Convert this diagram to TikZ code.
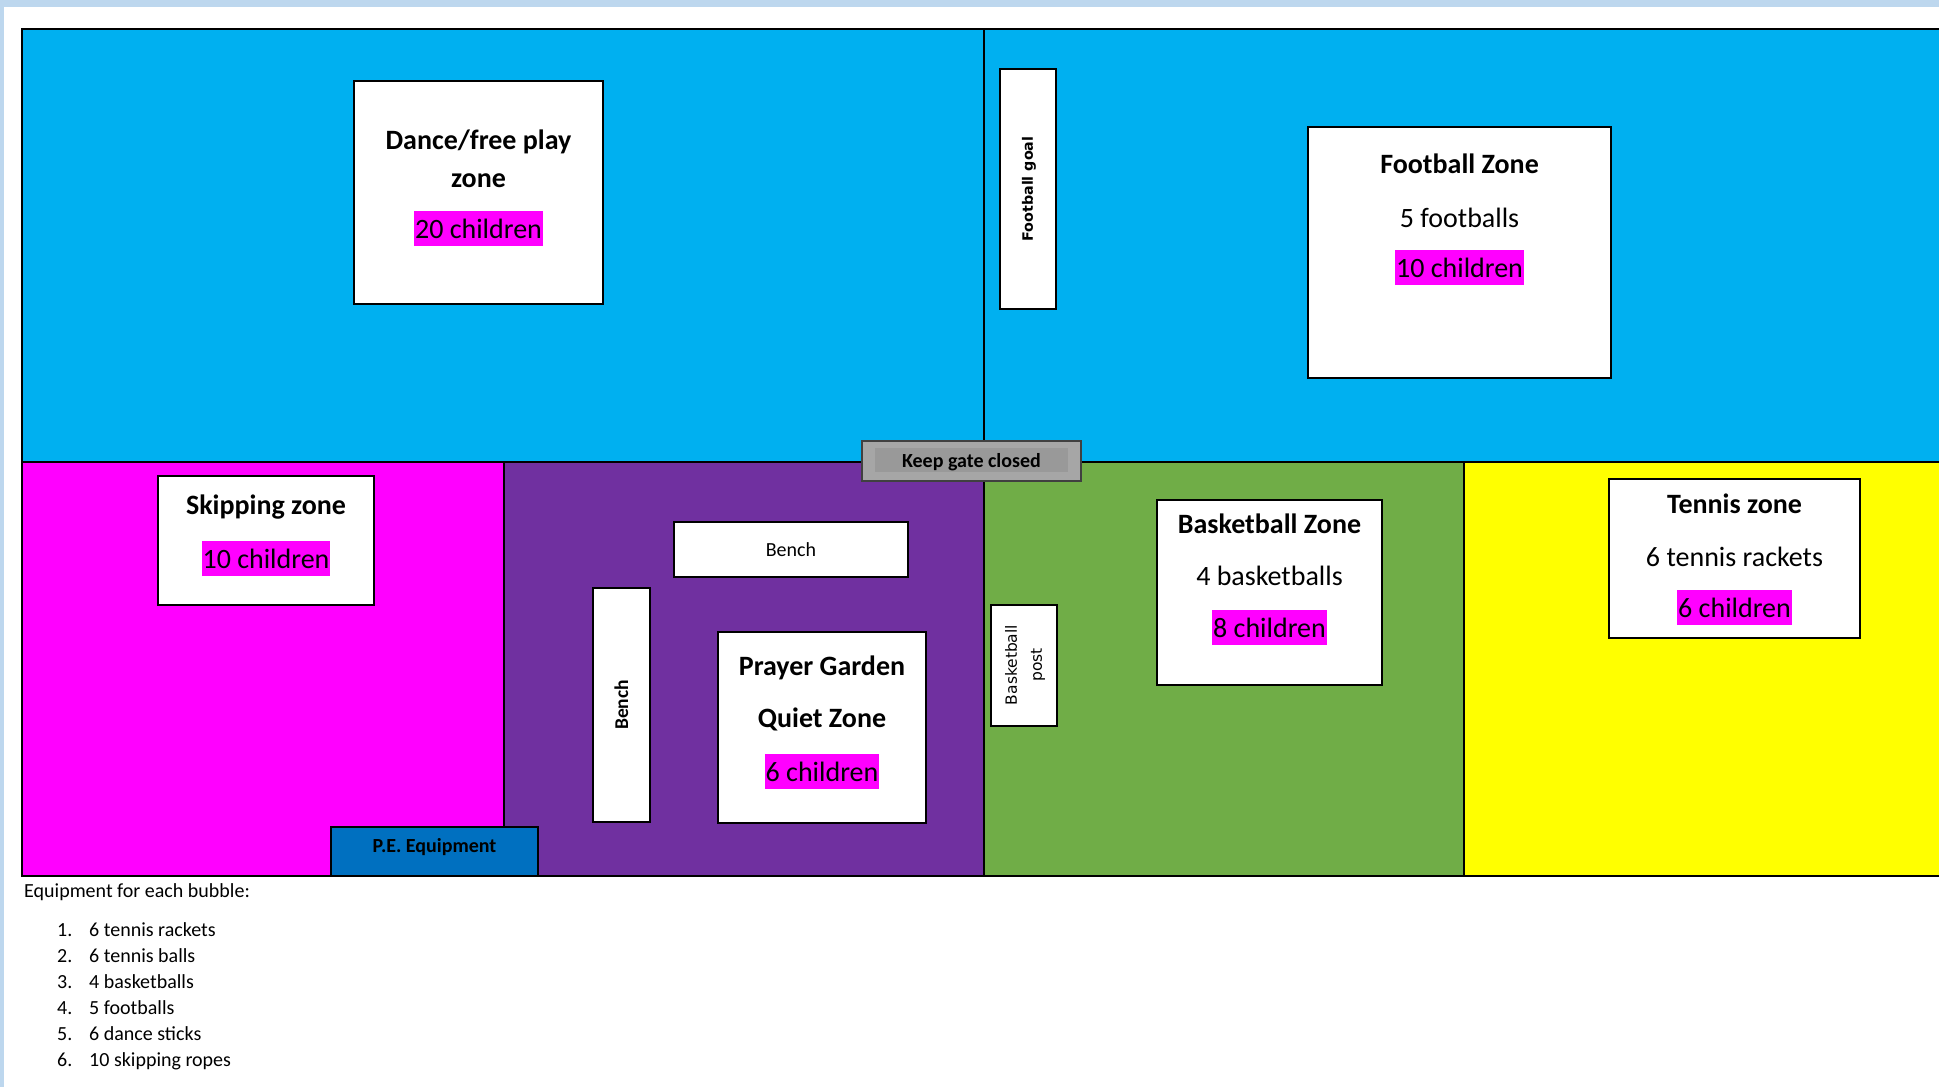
\documentclass[tikz,border=0pt]{standalone}
\usepackage{fontspec}
\setmainfont{Carlito}
\newfontfamily\signfont{DejaVu Sans}
\usetikzlibrary{positioning}
\definecolor{sky}{HTML}{00B0F0}
\definecolor{pink}{HTML}{FF00FF}
\definecolor{grape}{HTML}{7030A0}
\definecolor{grass}{HTML}{70AD47}
\definecolor{lemon}{HTML}{FFFF00}
\definecolor{pebox}{HTML}{0070C0}
\definecolor{edge}{HTML}{BDD7EE}
\definecolor{gate}{HTML}{A6A6A6}
\definecolor{gatein}{HTML}{999999}
\tikzset{
  zone/.style={draw=black, line width=1.3pt},
  whitebox/.style={draw=black, fill=white, line width=1.6pt},
  title/.style={anchor=base, inner sep=0pt, font=\fontsize{28}{34}\selectfont\bfseries},
  plain/.style={anchor=base, inner sep=0pt, font=\fontsize{28}{34}\selectfont},
  kids/.style={anchor=base, fill=pink, inner xsep=1pt, inner ysep=0pt, text height=27pt, text depth=8pt, font=\fontsize{28}{34}\selectfont},
  small/.style={anchor=base, inner sep=0pt, font=\fontsize{20}{24}\selectfont}
}

\begin{document}
\begin{tikzpicture}[x=1pt, y=-1pt]
\useasboundingbox (0,0) rectangle (1939,1087);
\clip (0,0) rectangle (1939,1087);
\fill[white] (0,0) rectangle (1939,1087);
\fill[edge] (0,0) rectangle (1939,7);
\fill[edge] (0,0) rectangle (4,1087);
% playground areas
\draw[zone, fill=sky] (22,29) rectangle (1950,462);
\draw[zone] (984,29) -- (984,462);
\draw[zone, fill=pink] (22,462) rectangle (504,876);
\draw[zone, fill=grape] (504,462) rectangle (984,876);
\draw[zone, fill=grass] (984,462) rectangle (1464,876);
\draw[zone, fill=lemon] (1464,462) rectangle (1950,876);
% dance
\draw[whitebox] (354,81) rectangle (603,304);
\node[title] (dance) at (478.5,149) {Dance/free play};
\node[title] (dance2) at (478.5,187) {zone};
\node[kids] (dancekids) at (478.5,238) {20 children};
% football
\draw[whitebox] (1000,69) rectangle (1056,309);
\node[rotate=90, font=\signfont\bfseries\fontsize{14.3}{17}\selectfont] (goal) at (1029,189) {Football goal};
\draw[whitebox] (1308,127) rectangle (1611,378);
\node[title] (foot) at (1459.5,173) {Football Zone};
\node[plain] (footballs) at (1459.5,227) {5 footballs};
\node[kids] (footkids) at (1459.5,277) {10 children};
% gate
\draw[draw=black!75, fill=gate, line width=1.5pt] (862,441) rectangle (1081,481);
\fill[gatein] (875,448) rectangle (1068,472);
\node[small, font=\fontsize{20}{24}\selectfont\bfseries] (gatetext) at (971.5,467) {Keep gate closed};
% skipping
\draw[whitebox] (158,476) rectangle (374,605);
\node[title] (skip) at (266,514) {Skipping zone};
\node[kids] (skipkids) at (266,568) {10 children};
\draw[zone, fill=pebox] (331,827) rectangle (538,876);
\node[small, font=\fontsize{20}{24}\selectfont\bfseries] (pe) at (434.5,852) {P.E. Equipment};
% prayer garden
\draw[whitebox] (674,522) rectangle (908,577);
\node[small] (bench) at (791,556) {Bench};
\draw[whitebox] (593,588) rectangle (650,822);
\node[rotate=90, anchor=base, inner sep=0pt, font=\fontsize{19.5}{24}\selectfont\bfseries] (bench2) at (628,705) {Bench};
\draw[whitebox] (718,632) rectangle (926,823);
\node[title] (prayer) at (822,675) {Prayer Garden};
\node[title] (quiet) at (822,727) {Quiet Zone};
\node[kids] (prayerkids) at (822,781) {6 children};
% basketball
\draw[whitebox] (991,605) rectangle (1057,726);
\node[rotate=90, align=center, font=\signfont\fontsize{15.5}{25}\selectfont] (post) at (1025,665) {Basketball\\post};
\draw[whitebox] (1157,500) rectangle (1382,685);
\node[title] (basket) at (1269.5,533) {Basketball Zone};
\node[plain] (basketballs) at (1269.5,585) {4 basketballs};
\node[kids] (basketkids) at (1269.5,637) {8 children};
% tennis
\draw[whitebox] (1609,479) rectangle (1860,638);
\node[title] (tennis) at (1734.5,513) {Tennis zone};
\node[plain] (rackets) at (1734.5,566) {6 tennis rackets};
\node[kids] (tenniskids) at (1734.5,617) {6 children};
% equipment list
\node[small, anchor=base west] (equip) at (24,897) {Equipment for each bubble:};
\foreach \thing [count=\i] in {6 tennis rackets, 6 tennis balls, 4 basketballs, 5 footballs, 6 dance sticks, 10 skipping ropes}
{
\node[small, anchor=base west] (num\i) at (57,{910+26*\i}) {\i.};
\node[small, anchor=base west] (item\i) at (89,{910+26*\i}) {\thing};
}
\end{tikzpicture}
\end{document}
